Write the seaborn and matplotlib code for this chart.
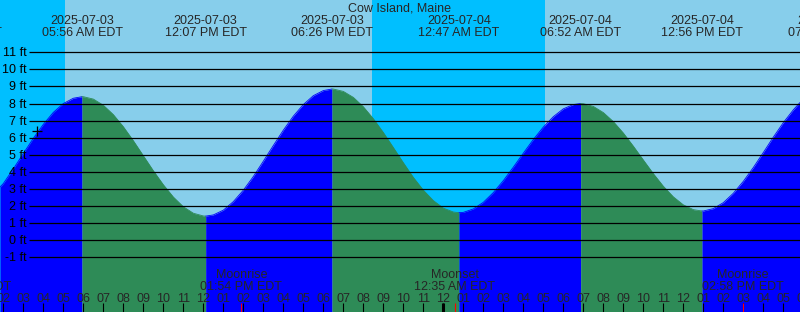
import matplotlib
matplotlib.use("Agg")
import matplotlib.pyplot as plt
import seaborn as sns
import pandas as pd

# ---------------- data ----------------
title = "Cow Island, Maine"

# hours since 2025-07-03 00:00 EDT, tide height in ft
sample_hours = [1.833, 2, 2.5, 3, 3.5, 4, 4.5, 5, 5.5, 5.933,
                6, 6.5, 7, 7.5, 8, 8.5, 9, 9.5, 10, 10.5, 11, 11.5, 12, 12.117,
                12.5, 13, 13.5, 14, 14.5, 15, 15.5, 16, 16.5, 17, 17.5, 18, 18.433,
                18.5, 19, 19.5, 20, 20.5, 21, 21.5, 22, 22.5, 23, 23.5, 24, 24.5, 24.783,
                25, 25.5, 26, 26.5, 27, 27.5, 28, 28.5, 29, 29.5, 30, 30.5, 30.867,
                31, 31.5, 32, 32.5, 33, 33.5, 34, 34.5, 35, 35.5, 36, 36.5, 36.933,
                37, 37.5, 38, 38.5, 39, 39.5, 40, 40.5, 41, 41.5, 41.833]
sample_heights = [3.10, 3.31, 4.17, 5.07, 5.96, 6.78, 7.48, 8.00, 8.31, 8.40,
                  8.40, 8.26, 7.90, 7.35, 6.64, 5.82, 4.94, 4.06, 3.24, 2.52, 1.95, 1.57, 1.41, 1.40,
                  1.47, 1.75, 2.25, 2.92, 3.72, 4.62, 5.54, 6.44, 7.26, 7.94, 8.46, 8.76, 8.85,
                  8.85, 8.71, 8.36, 7.81, 7.11, 6.30, 5.42, 4.53, 3.67, 2.92, 2.31, 1.87, 1.64, 1.60,
                  1.62, 1.82, 2.21, 2.78, 3.48, 4.27, 5.09, 5.89, 6.62, 7.23, 7.69, 7.94, 8.00,
                  7.99, 7.83, 7.47, 6.94, 6.27, 5.50, 4.69, 3.89, 3.15, 2.53, 2.06, 1.78, 1.70,
                  1.70, 1.84, 2.19, 2.74, 3.44, 4.25, 5.13, 6.03, 6.88, 7.63, 8.06]

extreme_hours = [-0.117, 5.933, 12.117, 18.433, 24.783, 30.867, 36.933, 43.283]
extreme_dates = ["2025-07-02", "2025-07-03", "2025-07-03", "2025-07-03",
                 "2025-07-04", "2025-07-04", "2025-07-04", "2025-07-04"]
extreme_times = ["11:53 PM EDT", "05:56 AM EDT", "12:07 PM EDT", "06:26 PM EDT",
                 "12:47 AM EDT", "06:52 AM EDT", "12:56 PM EDT", "07:17 PM EDT"]

moon_hours = [0.367, 13.9, 24.583, 38.967]
moon_events = ["Moonset", "Moonrise", "Moonset", "Moonrise"]
moon_times = ["12:22 AM EDT", "01:54 PM EDT", "12:35 AM EDT", "02:58 PM EDT"]

night_starts = [1.833, 20.45]
night_ends = [5.083, 29.083]

height_ticks = list(range(-1, 12))
hour_ticks = list(range(1, 43))
midnight_hours = [24]
now_hour, now_height = 3.683, 6.39

# ---------------- layout ----------------
W, H = 800, 312
PX_PER_FT = 17.06
ZERO_PX = 240.0
X0 = 1.833
PX_PER_HOUR = 20.0

def y_of(px):
    return (ZERO_PX - px) / PX_PER_FT

def x_of(px):
    return X0 + px / PX_PER_HOUR

sns.set_style("white")
plt.rcParams['font.family'] = ['Liberation Sans', 'DejaVu Sans']
FS = 9

fig = plt.figure(figsize=(W / 100, H / 100), dpi=100)
ax = fig.add_axes([0, 0, 1, 1])

DAY = "#87CEEB"
NIGHT = "#00BFFF"
RISE = "#0000FF"
FALL = "#2E8B57"

ax.axvspan(x_of(0), x_of(W), color=DAY, lw=0, zorder=0)
for s, e in zip(night_starts, night_ends):
    ax.axvspan(s, e, color=NIGHT, lw=0, zorder=0.5)

df = pd.DataFrame({"hour": sample_hours, "height": sample_heights})
ext_idx = [0] + [i for i, h in enumerate(sample_hours)
                 if any(abs(h - e) < 1e-6 for e in extreme_hours)] + [len(sample_hours) - 1]
ext_idx = sorted(set(ext_idx))
bottom = y_of(H)
for a, b in zip(ext_idx[:-1], ext_idx[1:]):
    seg = df.iloc[a:b + 1]
    col = RISE if seg["height"].iloc[-1] > seg["height"].iloc[0] else FALL
    ax.fill_between(seg["hour"], seg["height"], bottom, color=col, lw=0, zorder=1)
    sns.lineplot(data=seg, x="hour", y="height", color=col, lw=0.6, ax=ax, zorder=1.1)

ax.axis("off")
ax.set_xlim(x_of(0), x_of(W))
ax.set_ylim(y_of(H), y_of(0))

# horizontal height lines
ax.hlines(height_ticks, x_of(29), x_of(W), color="black", lw=0.9, zorder=2)
for h in height_ticks:
    ax.text(x_of(27), y_of(ZERO_PX - h * PX_PER_FT + 4), f"{h} ft", ha="right",
            va="baseline", fontsize=FS, color="black", zorder=3)

# now marker
ax.plot([now_hour], [now_height], marker="+", ms=7, mew=0.9, color="black", zorder=3)

# title
ax.text(x_of(400), y_of(11), title, ha="center", va="baseline", fontsize=FS, zorder=3)

# extreme labels
for t, d, s in zip(extreme_hours, extreme_dates, extreme_times):
    ax.text(t, y_of(24), d, ha="center", va="baseline", fontsize=FS, zorder=3)
    ax.text(t, y_of(36), s, ha="center", va="baseline", fontsize=FS, zorder=3)

# moon labels
for t, ev, s in zip(moon_hours, moon_events, moon_times):
    ax.text(t, y_of(278.5), ev, ha="center", va="baseline", fontsize=FS, zorder=3)
    ax.text(t, y_of(290), s, ha="center", va="baseline", fontsize=FS, zorder=3)

# hour labels and ticks
for t in hour_ticks:
    hh = t % 12
    hh = 12 if hh == 0 else hh
    ax.text(t, y_of(301.5), f"{hh:02d}", ha="center", va="baseline", fontsize=FS, zorder=3)
ax.vlines(hour_ticks, y_of(303), y_of(H), color="black", lw=0.8, zorder=3)
ax.vlines(midnight_hours, y_of(303), y_of(H), color="black", lw=2.2, zorder=3)
ax.vlines(moon_hours, y_of(303), y_of(H), color="red", lw=0.8, zorder=3)

fig.savefig("out.png", dpi=100)
